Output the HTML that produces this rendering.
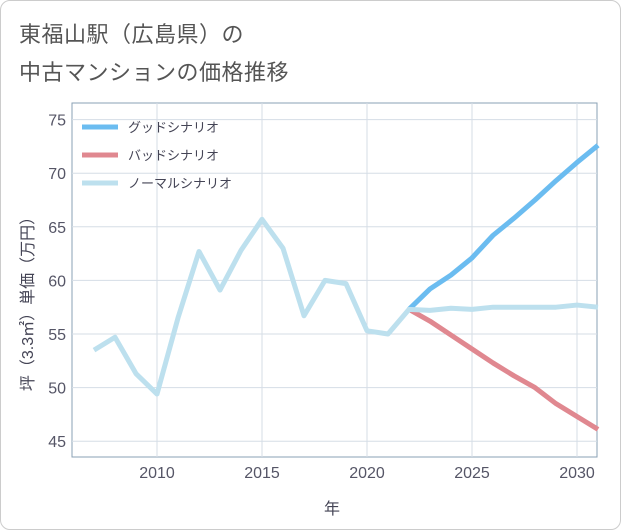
<!DOCTYPE html>
<html><head><meta charset="utf-8"><style>
body{margin:0;background:#fff;font-family:"Liberation Sans","Noto Sans CJK JP",sans-serif;}
#wrap{position:relative;width:619px;height:528px;border:1px solid #ccc;border-radius:10px;overflow:hidden;background:#fff}
.t{position:absolute;left:18px;font-size:22px;color:#555;letter-spacing:0.5px}
</style></head><body>
<div id="wrap">
<div class="t" style="top:16px">東福山駅（広島県）の</div>
<div class="t" style="top:54px">中古マンションの価格推移</div>
<svg id="c" width="621" height="530" style="position:absolute;left:-1px;top:-1px"></svg>
</div>
<script>
const years=[2007,2008,2009,2010,2011,2012,2013,2014,2015,2016,2017,2018,2019,2020,2021,2022,2023,2024,2025,2026,2027,2028,2029,2030,2031];
const normalVals=[53.5,54.7,51.3,49.4,56.5,62.7,59.1,62.8,65.7,63.0,56.7,60.0,59.7,55.3,55.0,57.3,57.2,57.4,57.3,57.5,57.5,57.5,57.5,57.7,57.5];
const futureYears=[2022,2023,2024,2025,2026,2027,2028,2029,2030,2031];
const goodVals=[57.3,59.2,60.5,62.1,64.2,65.8,67.5,69.3,71.0,72.6];
const badVals=[57.3,56.2,54.9,53.6,52.3,51.1,50.0,48.5,47.3,46.1];
const xTicks=[2010,2015,2020,2025,2030];
const yTicks=[45,50,55,60,65,70,75];
const L=72,R=597,T=103,B=457;
const x=v=>157+(v-2010)*21;
const y=v=>334-(v-55)*10.72;
const ns="http://www.w3.org/2000/svg",svg=document.getElementById('c');
function el(t,a,p){const e=document.createElementNS(ns,t);for(const k in a)e.setAttribute(k,a[k]);(p||svg).appendChild(e);return e;}
const bg=el('rect',{x:L,y:T,width:R-L,height:B-T,fill:'#fff',stroke:'#8aa0b4','stroke-width':1});


xTicks.forEach(v=>{const g=el('line',{x1:x(v),x2:x(v),y1:T,y2:B,stroke:'#d5dde6'});


const t=el('text',{x:x(v),y:B+21,'text-anchor':'middle','font-size':16,fill:'#556'});t.textContent=v;

});
yTicks.forEach(v=>{const g=el('line',{x1:L,x2:R,y1:y(v),y2:y(v),stroke:'#d5dde6'});


const t=el('text',{x:L-6,y:y(v)+6,'text-anchor':'end','font-size':16,fill:'#556'});t.textContent=v;

});
const xt=el('text',{x:332,y:514,'text-anchor':'middle','font-size':16,fill:'#445'});xt.textContent='年';


const yt=el('text',{x:0,y:0,'text-anchor':'middle','font-size':16,fill:'#445',transform:'translate(33,300) rotate(-90)'});yt.textContent='坪（3.3㎡）単価（万円）';


function line(xs,vs,col,name){const p=el('polyline',{points:xs.map((v,i)=>x(v)+','+y(vs[i])).join(' '),fill:'none',stroke:col,'stroke-width':5,'stroke-linejoin':'round'});

}
line(futureYears,goodVals,'#6bbcf0','good-scenario-line');
line(futureYears,badVals,'#e08890','bad-scenario-line');
line(years,normalVals,'#bde0ee','normal-scenario-line');
[['グッドシナリオ','#6bbcf0'],['バッドシナリオ','#e08890'],['ノーマルシナリオ','#bde0ee']].forEach((d,i)=>{
const yy=127+i*28;
const l=el('line',{x1:82,x2:118,y1:yy,y2:yy,stroke:d[1],'stroke-width':5});


const t=el('text',{x:128,y:yy+5,'font-size':13,fill:'#445'});t.textContent=d[0];

});
</script>
</body></html>
